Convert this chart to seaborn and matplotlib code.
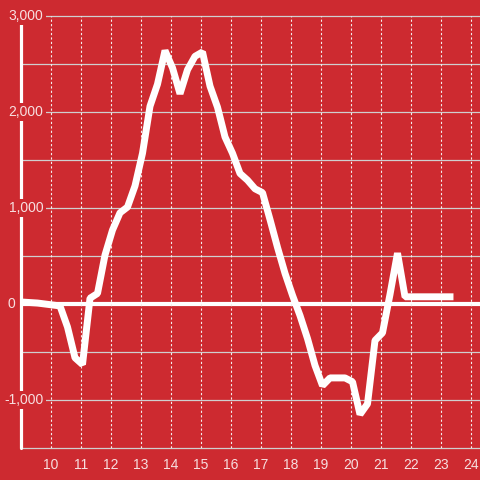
import numpy as np
import pandas as pd
import matplotlib
matplotlib.use("Agg")
import matplotlib.pyplot as plt
import matplotlib.transforms as mtransforms
import seaborn as sns

# hours of the day (every 15 minutes, starting 9:03)
hours = [9.05, 9.30, 9.55, 9.80, 10.05, 10.30, 10.55, 10.80, 11.05, 11.30,
         11.55, 11.80, 12.05, 12.30, 12.55, 12.80, 13.05, 13.30, 13.55, 13.80,
         14.05, 14.30, 14.55, 14.80, 15.05, 15.30, 15.55, 15.80, 16.05, 16.30,
         16.55, 16.80, 17.05, 17.30, 17.55, 17.80, 18.05, 18.30, 18.55, 18.80,
         19.05, 19.30, 19.55, 19.80, 20.05, 20.30, 20.55, 20.80, 21.05, 21.30,
         21.55, 21.80, 22.05, 22.30, 22.55, 22.80, 23.05, 23.30]
values = [20, 15, 10, 0, -10, -20, -240, -560, -630, 60,
          110, 510, 770, 950, 1010, 1230, 1570, 2060, 2290, 2640,
          2460, 2190, 2440, 2580, 2625, 2270, 2050, 1740, 1570, 1360,
          1290, 1200, 1160, 880, 590, 320, 90, -120, -360, -640,
          -850, -770, -770, -770, -810, -1150, -1040, -380, -300, 100,
          530, 75, 75, 75, 75, 75, 75, 75]

x_ticks = list(range(10, 25))
y_ticks = [-1000, 0, 1000, 2000, 3000]
y_grid = [-1500, -1000, -500, 0, 500, 1000, 1500, 2000, 2500, 3000]

df = pd.DataFrame({"hour": hours, "value": values})

red = "#cd2a30"
txt = "#f7dfe0"

sns.set_style("white")
plt.rcParams["font.family"] = ["Liberation Sans", "DejaVu Sans"]

fig = plt.figure(figsize=(4.8, 4.8), dpi=100, facecolor=red)
ax = fig.add_axes([21 / 480, 32 / 480, 459 / 480, 432 / 480])
ax.set_facecolor(red)

# grid
for v in y_grid:
    ax.axhline(v, color="#cfcfcf", lw=0.9, zorder=0.3, clip_on=False)
ax.set_axisbelow(True)
ax.grid(axis="x", color="#f3eeee", lw=0.8, linestyle=(0, (2, 2)))
ax.grid(axis="y", visible=False)

# left spine and zero line
ax.axvline(9.0, color="white", lw=2.3, zorder=0.4, clip_on=False)
ax.axhline(0, color="white", lw=3, zorder=0.45)

sns.lineplot(data=df, x="hour", y="value", color="white", lw=5, ax=ax, zorder=2)
for ln in ax.lines[-1:]:
    ln.set_solid_joinstyle("bevel")
    ln.set_solid_capstyle("projecting")

ax.set_xlim(9.0, 24.3)
ax.set_ylim(-1500, 3000)
for s in ax.spines.values():
    s.set_visible(False)

ax.set_xticks(x_ticks)
ax.set_xticklabels([str(t) for t in x_ticks])
ax.tick_params(axis="x", length=0, pad=7, labelsize=10, labelcolor=txt)
ax.set_yticks([])

# y labels sit over the axis line, with a red box behind them
trans = mtransforms.blended_transform_factory(fig.transFigure, ax.transData)
for t in y_ticks:
    if t == 0:
        ax.text(7 / 480, t, "0", transform=trans, ha="left", va="center",
                fontsize=10, color=txt, zorder=0.6,
                bbox=dict(facecolor=red, edgecolor="none", pad=1.5))
    else:
        ax.text(43.5 / 480, t, f"{t:,}", transform=trans, ha="right", va="center",
                fontsize=10, color=txt, zorder=0.6,
                bbox=dict(facecolor=red, edgecolor="none", pad=1.5))

ax.set_xlabel("")
ax.set_ylabel("")

fig.savefig("out.png", dpi=100, facecolor=red)
